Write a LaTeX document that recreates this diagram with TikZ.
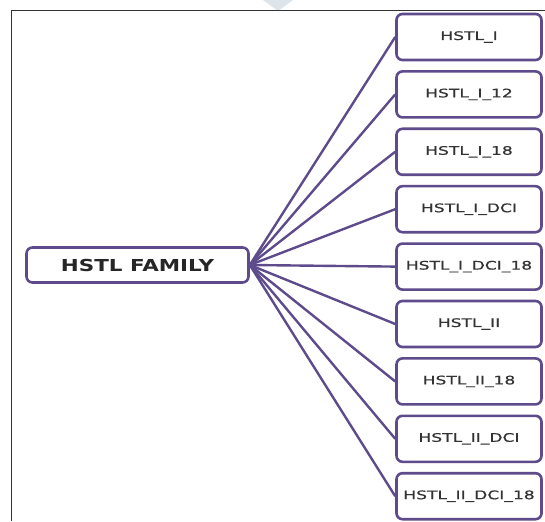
\documentclass[tikz,border=0pt]{standalone}
\usepackage{fontspec}
\newfontfamily\leaffont[FakeStretch=1.45, FakeBold=0.6]{DejaVu Sans}
\newfontfamily\rootfont[FakeStretch=1.3]{DejaVu Sans Bold}
\definecolor{hstlpurple}{HTML}{5E4B8B}
\definecolor{hstltext}{HTML}{333333}
\definecolor{markgray}{HTML}{DDE4EA}

\begin{document}
\begin{tikzpicture}[x=1pt, y=-1pt,
		leafbox/.style={draw=hstlpurple, line width=2.6pt, rounded corners=6pt, fill=white,
			minimum width=145pt, minimum height=46pt, inner sep=0pt,
			font=\leaffont\fontsize{11.8}{12}\selectfont, text=hstltext},
		rootbox/.style={draw=hstlpurple, line width=2.6pt, rounded corners=6pt, fill=white,
			minimum width=222pt, minimum height=35pt, inner sep=0pt,
			font=\rootfont\fontsize{16.5}{18}\selectfont, text=black!85},
		link/.style={draw=hstlpurple, line width=2.4pt}]
			%%%%% START %%%%%
			\useasboundingbox (0, 0) rectangle (545, 521);
			
			\fill[markgray] (263, 0) -- (293, 0) -- (278, 11) -- cycle;
			\draw[line width=1.4pt, color=black!80] (545, 10.5) -- (11.5, 10.5) -- (11.5, 521);
			
			\node[rootbox] (fam) at (137.5, 265) {HSTL FAMILY};
			
			\foreach \name [count=\i from 0] in {HSTL\_I, HSTL\_I\_12, HSTL\_I\_18, HSTL\_I\_DCI,
					HSTL\_I\_DCI\_18, HSTL\_II, HSTL\_II\_18, HSTL\_II\_DCI, HSTL\_II\_DCI\_18}
			{
				\node[leafbox] (b\i) at (469, {37 + 57.4*\i}) {\name};
				\draw[link] (fam.east) -- (b\i.west);
			}
			
			%%%%% END %%%%%
\end{tikzpicture}
\end{document}
